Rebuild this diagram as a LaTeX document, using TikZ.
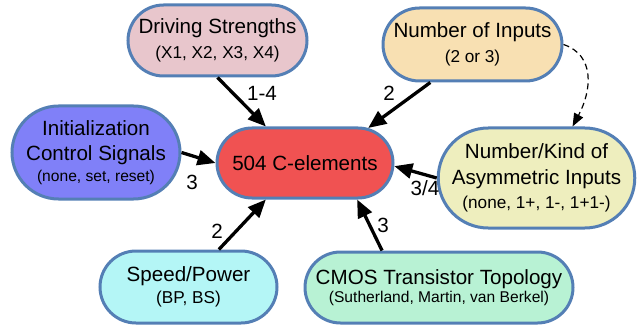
\documentclass[tikz,border=0pt]{standalone}
\usepackage{fontspec}
\setmainfont{Liberation Sans}
\usetikzlibrary{shapes.misc,arrows.meta,calc}
\definecolor{bordc}{RGB}{84,127,181}
\definecolor{drvfill}{RGB}{232,198,204}
\definecolor{inpfill}{RGB}{248,224,178}
\definecolor{initfill}{RGB}{128,128,248}
\definecolor{cefill}{RGB}{240,82,82}
\definecolor{nkfill}{RGB}{238,238,190}
\definecolor{spfill}{RGB}{180,246,246}
\definecolor{cmosfill}{RGB}{184,242,212}
\newcommand{\subf}{\fontsize{17.2}{20}\selectfont}
\newcommand{\subs}{\fontsize{15.6}{20}\selectfont}
\tikzset{
  pill/.style={rounded rectangle, draw=bordc, line width=3pt, align=center, inner sep=0pt,
    font=\fontsize{20.6}{20}\selectfont},
  arr/.style={line width=3.3pt, -{Triangle[length=18pt,width=15pt]}},
  darr/.style={line width=1.2pt, dash pattern=on 6pt off 4pt, -{Triangle[length=13pt,width=10pt]}},
  lbl/.style={font=\fontsize{20.6}{24}\selectfont, inner sep=0pt}
}
\begin{document}
\begin{tikzpicture}[x=1pt,y=-1pt]
\useasboundingbox (0,0) rectangle (637,326);
\node[pill, fill=drvfill, minimum width=179pt, minimum height=71pt] (drv) at (217.5,40.5)
  {Driving Strengths\\[5.5pt]{\subf (X1, X2, X3, X4)}};
\node[pill, fill=inpfill, minimum width=179pt, minimum height=73pt] (inp) at (472.5,44.5)
  {Number of Inputs\\[5.5pt]{\subf (2 or 3)}};
\node[pill, fill=initfill, minimum width=168pt, minimum height=93pt] (init) at (96,152.5)
  {Initialization\\[5pt]Control Signals\\[1pt]{\subs (none, set, reset)}};
\node[pill, fill=cefill, minimum width=176pt, minimum height=70pt] (ce) at (305,163)
  {504 C-elements};
\node[pill, fill=nkfill, minimum width=187pt, minimum height=100pt] (nk) at (536.5,178)
  {Number/Kind of\\[6pt]Asymmetric Inputs\\[4pt]{\subf (none, 1+, 1-, 1+1-)}};
\node[pill, fill=spfill, minimum width=177pt, minimum height=72pt] (sp) at (188.5,287)
  {Speed/Power\\[2pt]{\subf (BP, BS)}};
\node[pill, fill=cmosfill, minimum width=268pt, minimum height=71pt] (cmos) at (439,287.5)
  {CMOS Transistor Topology\\[-1.4pt]{\subs (Sutherland, Martin, van Berkel)}};

\draw[arr] (drv.south) -- (ce.137);
\draw[arr] (inp.222) -- (ce.29);
\draw[arr] (init.east) -- (ce.west);
\draw[arr] (sp.51) -- (ce.223);
\draw[arr] (cmos.147) -- (ce.-35);
\draw[arr] (nk.west) -- (ce.-2);
\draw[darr] (inp.east) .. controls (595,55) and (592,90) .. (nk.55);

\node[lbl] (l1) at (262,93) {1-4};
\node[lbl] (l2) at (389,93) {2};
\node[lbl] (l3) at (192,182) {3};
\node[lbl] (l4) at (425,188) {3/4};
\node[lbl] (l5) at (217,231) {2};
\node[lbl] (l6) at (383,225) {3};
\end{tikzpicture}
\end{document}
